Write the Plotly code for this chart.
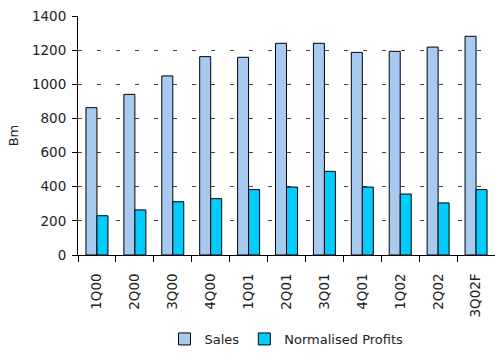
import plotly.graph_objects as go

categories = ["1Q00", "2Q00", "3Q00", "4Q00", "1Q01", "2Q01", "3Q01", "4Q01", "1Q02", "2Q02", "3Q02F"]
sales = [863, 941, 1049, 1162, 1158, 1240, 1240, 1187, 1193, 1218, 1281]
profits = [230, 264, 312, 330, 383, 398, 490, 398, 357, 305, 383]
y_ticks = [0, 200, 400, 600, 800, 1000, 1200, 1400]

font = dict(family="DejaVu Sans", size=13, color="#222222")

fig = go.Figure()
fig.add_trace(go.Bar(x=categories, y=sales, name="Sales",
                     marker=dict(color="#A6CAF0", line=dict(color="#000000", width=1))))
fig.add_trace(go.Bar(x=categories, y=profits, name="Normalised Profits",
                     marker=dict(color="#00CCFF", line=dict(color="#000000", width=1))))

fig.update_layout(
    width=495, height=354,
    margin=dict(l=78, r=0, t=16, b=99, autoexpand=False),
    paper_bgcolor="white", plot_bgcolor="white",
    font=font,
    barmode="group", bargap=0.42, bargroupgap=0,
    showlegend=True,
    legend=dict(orientation="h", x=0.5, xanchor="center", yref="container", y=-0.012, yanchor="bottom",
                font=dict(family="DejaVu Sans", size=13, color="#222222"),
                itemwidth=30, tracegroupgap=0),
)
fig.update_yaxes(range=[0, 1400], tickvals=y_ticks, showline=True, linecolor="black", linewidth=1,
                 ticks="outside", ticklen=5, tickcolor="black", automargin=False,
                 tickfont=dict(size=13.5), ticklabelstandoff=3,
                 showgrid=True, gridcolor="#444444", griddash="4px,15px", gridwidth=1,
                 zeroline=False, title=dict(text="Bm", standoff=10, font=dict(size=13)))
fig.update_xaxes(showline=True, linecolor="black", linewidth=1, ticks="outside", ticklen=6,
                 tickcolor="black", tickson="boundaries", tickangle=-90, showgrid=False,
                 automargin=False, tickfont=dict(size=13.5), ticklabelstandoff=12)

fig.write_html("out.html")
